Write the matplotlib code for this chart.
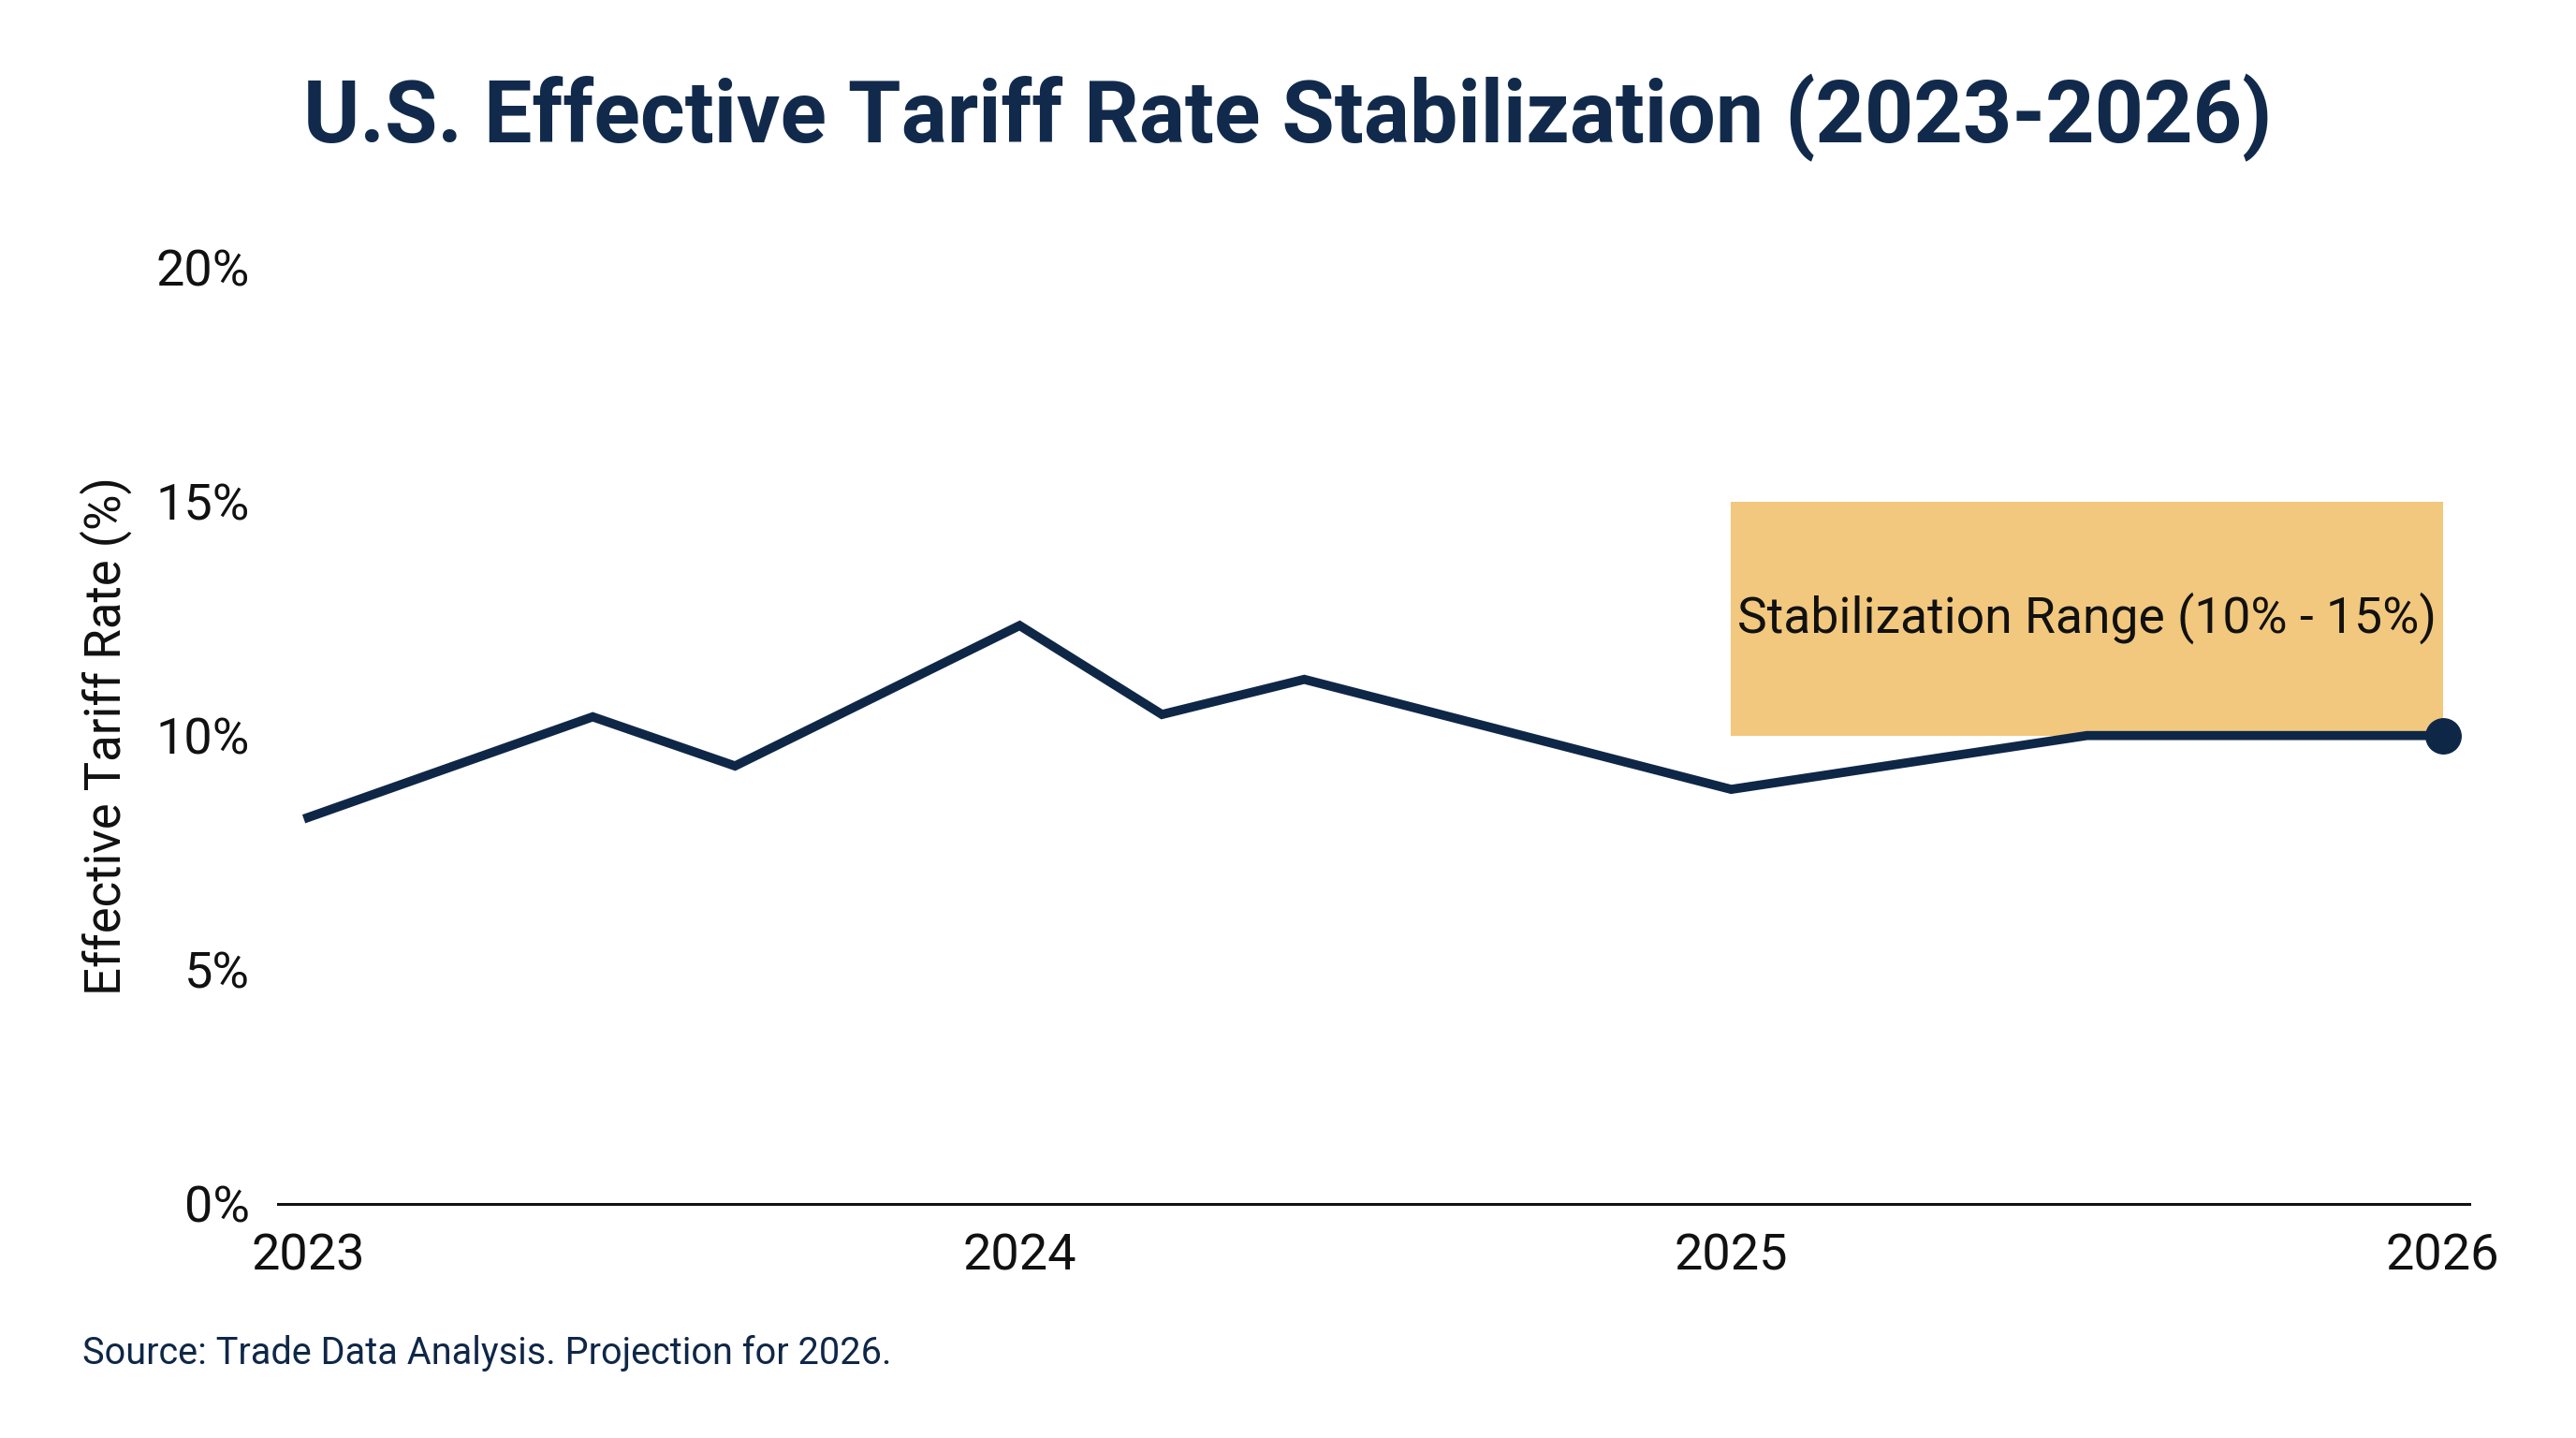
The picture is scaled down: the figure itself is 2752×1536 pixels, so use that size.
import numpy as np
import matplotlib.pyplot as plt
from matplotlib.patches import Rectangle
from matplotlib.ticker import FuncFormatter

plt.rcParams['font.family'] = ['Roboto', 'DejaVu Sans']

# data
years = [2023.0, 2023.4, 2023.6, 2024.0, 2024.2, 2024.4, 2025.0, 2025.5, 2026.0]
rate = [8.25, 10.4, 9.35, 12.35, 10.45, 11.2, 8.85, 10.0, 10.0]
band_years = [2025, 2026]
band_range = [10, 15]
xtick_years = [2023, 2024, 2025, 2026]
ytick_vals = [0, 5, 10, 15, 20]

navy = '#0f2747'

fig = plt.figure(figsize=(27.52, 15.36), dpi=100)
ax = fig.add_axes([0.108, 0.163, 0.8505, 0.651])

ax.add_patch(Rectangle((band_years[0], band_range[0]), band_years[1] - band_years[0],
                       band_range[1] - band_range[0], color='#f2c87e', zorder=1, lw=0))
ax.text(np.mean(band_years), np.mean(band_range), 'Stabilization Range (10% - 15%)',
        ha='center', va='center', fontsize=38.5, color='#111111', zorder=2)

ax.plot(years, rate, color=navy, lw=7, zorder=3, solid_joinstyle='miter')
ax.plot(years[-1], rate[-1], 'o', color=navy, ms=27, zorder=4)

ax.set_xlim(2022.958, 2026.037)
ax.set_ylim(0, 20)
ax.set_xticks(xtick_years)
ax.set_xticklabels([str(y) for y in xtick_years])
ax.set_yticks(ytick_vals)
ax.yaxis.set_major_formatter(FuncFormatter(lambda v, p: '%d%%' % v))
ax.tick_params(axis='both', length=0, labelsize=39, colors='#111111')
ax.tick_params(axis='x', pad=22)
ax.tick_params(axis='y', pad=22)
for s in ['top', 'right', 'left']:
    ax.spines[s].set_visible(False)
ax.spines['bottom'].set_linewidth(2.2)
ax.spines['bottom'].set_color('#111111')

ax.set_ylabel('Effective Tariff Rate (%)', fontsize=38, color='#111111', labelpad=18)

fig.text(0.5, 0.918, 'U.S. Effective Tariff Rate Stabilization (2023-2026)',
         ha='center', va='center', fontsize=66, fontweight='bold', color='#112a4c')
fig.text(0.032, 0.059, 'Source: Trade Data Analysis. Projection for 2026.',
         ha='left', va='center', fontsize=28.5, color=navy)

fig.savefig('out.png', dpi=100, facecolor='white')
